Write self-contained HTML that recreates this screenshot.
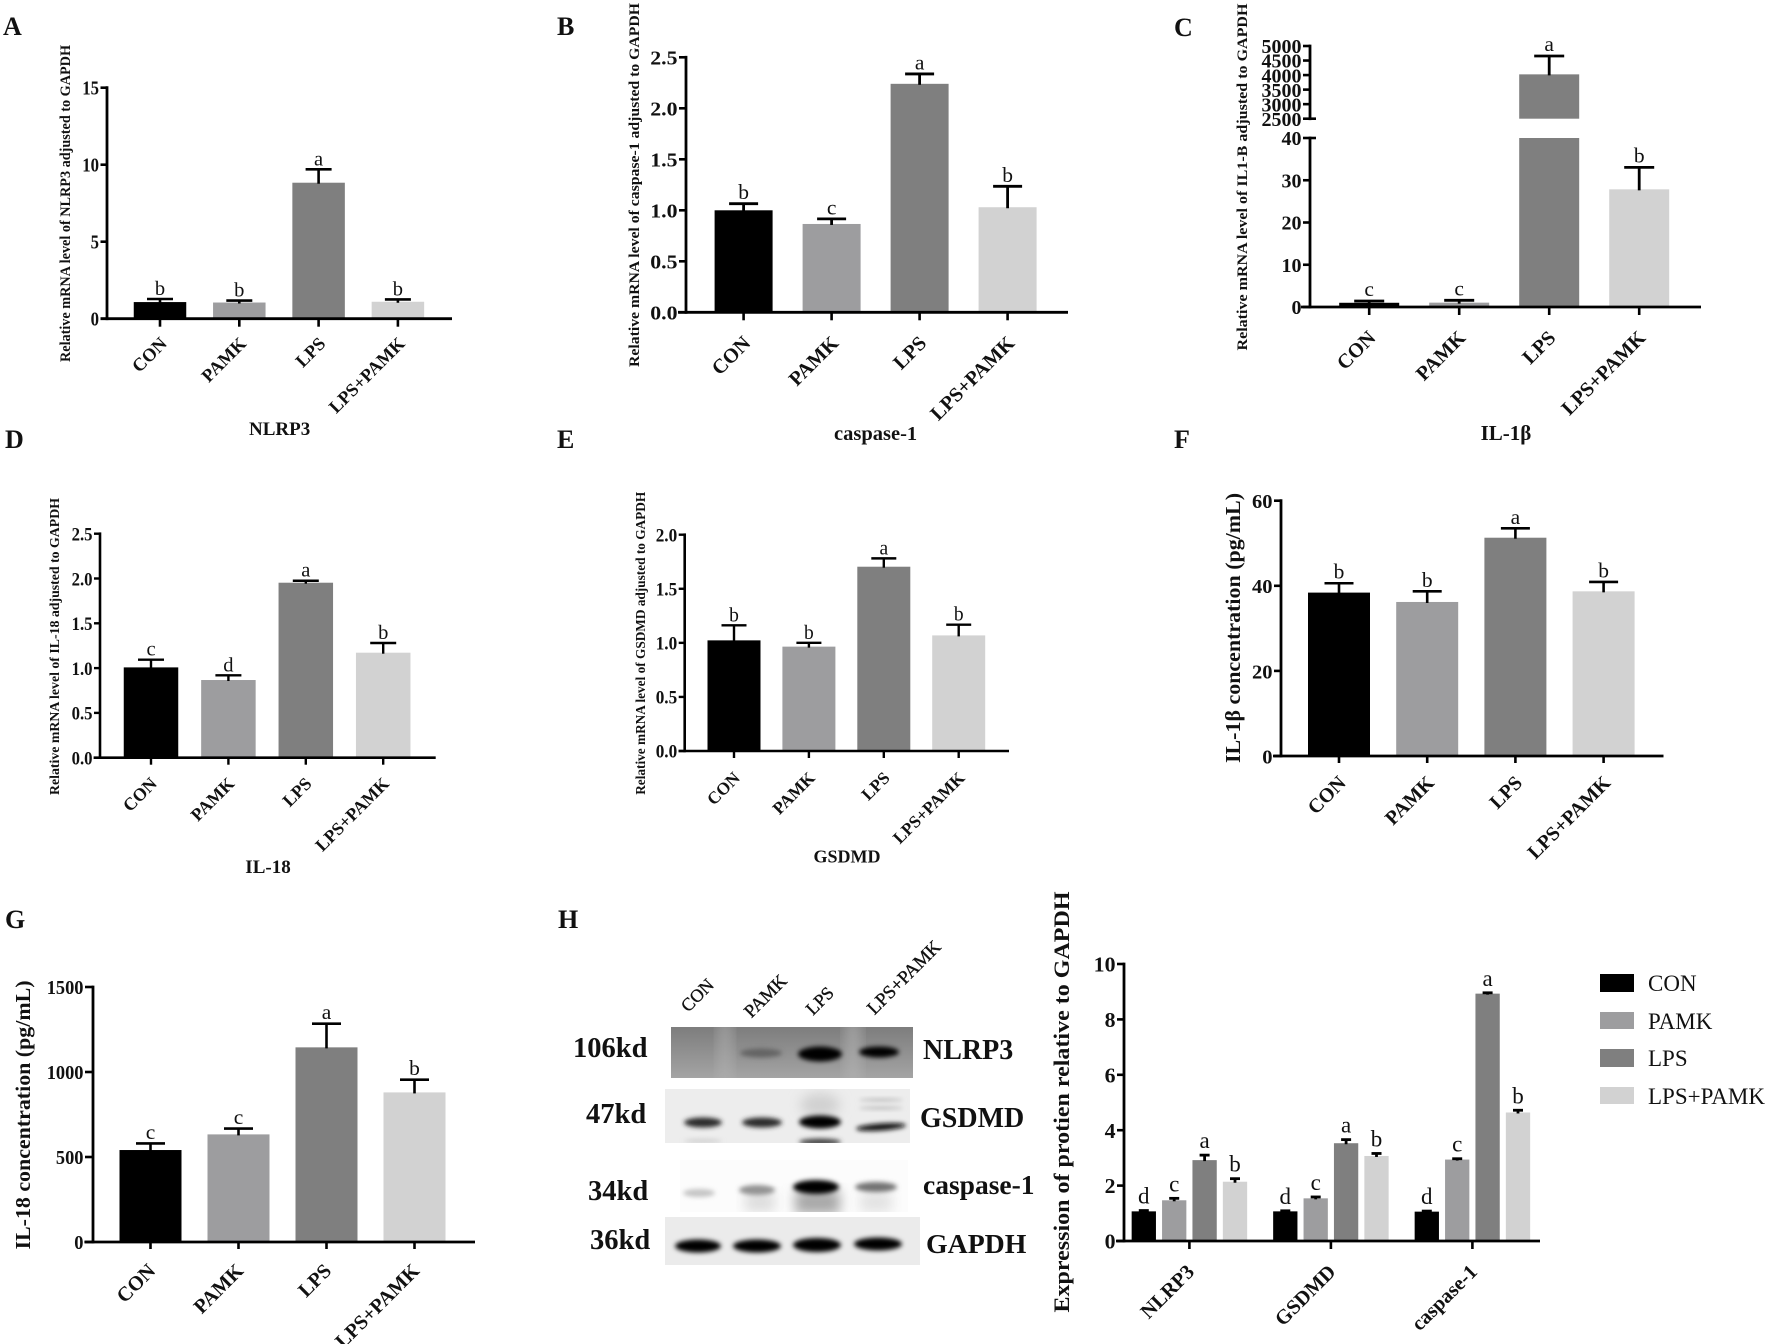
<!DOCTYPE html>
<html lang="en">
<head>
<meta charset="utf-8">
<title>PAMK and LPS pyroptosis marker bar charts</title>
<style>
html,body{margin:0;padding:0;background:#fff}
svg{display:block}
text{font-family:"Liberation Serif","DejaVu Serif",serif;fill:#111}
.b{font-weight:bold}
.panel{font-size:26px;font-weight:bold}
.lane{stroke:#111;stroke-width:.35px}
</style>
</head>
<body>
<svg id="figure" xmlns="http://www.w3.org/2000/svg" width="1772" height="1344" viewBox="0 0 1772 1344">
<defs>
<filter id="blur2" x="-30%" y="-100%" width="160%" height="300%"><feGaussianBlur stdDeviation="2.4"/></filter>
<filter id="blur5" x="-30%" y="-30%" width="160%" height="160%"><feGaussianBlur stdDeviation="6"/></filter>
<filter id="edge" x="-5%" y="-15%" width="110%" height="130%"><feGaussianBlur stdDeviation="1.2"/></filter>
<linearGradient id="blotA" x1="0" y1="0" x2="0" y2="1"><stop offset="0" stop-color="#7d7d7d"/><stop offset="1" stop-color="#a4a4a4"/></linearGradient>
<clipPath id="clipA"><rect x="671" y="1027" width="242" height="51"/></clipPath>
<clipPath id="clipB"><rect x="665" y="1089" width="245" height="54"/></clipPath>
<clipPath id="clipC"><rect x="680" y="1160" width="228" height="52"/></clipPath>
<clipPath id="clipD"><rect x="665" y="1217" width="255" height="48"/></clipPath>
</defs>
<rect x="0" y="0" width="1772" height="1344" fill="#fff"/>

<text class="panel" x="3" y="35">A</text>
<text class="panel" x="557" y="35">B</text>
<text class="panel" x="1174" y="36">C</text>
<text class="panel" x="5" y="448">D</text>
<text class="panel" x="557" y="448">E</text>
<text class="panel" x="1174" y="448">F</text>
<text class="panel" x="5" y="928">G</text>
<text class="panel" x="558" y="928">H</text>

<g id="chart-a">
<text class="b" font-size="14.5" text-anchor="middle" textLength="317" lengthAdjust="spacingAndGlyphs" transform="translate(70 203.5) rotate(-90)">Relative mRNA level of NLRP3 adjusted to GAPDH</text>
<text class="b" font-size="19" text-anchor="middle" x="279.6" y="435">NLRP3</text>
</g>
<g id="chart-b">
<text class="b" font-size="15" text-anchor="middle" textLength="364" lengthAdjust="spacingAndGlyphs" transform="translate(639 185) rotate(-90)">Relative mRNA level of caspase-1 adjusted to GAPDH</text>
<text class="b" font-size="20.5" text-anchor="middle" x="875.6" y="440">caspase-1</text>
</g>
<g id="chart-c">
<text class="b" font-size="15" text-anchor="middle" textLength="347" lengthAdjust="spacingAndGlyphs" transform="translate(1247 177) rotate(-90)">Relative mRNA level of IL1-B adjusted to GAPDH</text>
<text class="b" font-size="21" text-anchor="middle" x="1506" y="440">IL-1β</text>
</g>
<g id="chart-d">
<text class="b" font-size="14" text-anchor="middle" textLength="297" lengthAdjust="spacingAndGlyphs" transform="translate(59 646.5) rotate(-90)">Relative mRNA level of IL-18 adjusted to GAPDH</text>
<text class="b" font-size="19" text-anchor="middle" x="268" y="873">IL-18</text>
</g>
<g id="chart-e">
<text class="b" font-size="14" text-anchor="middle" textLength="303" lengthAdjust="spacingAndGlyphs" transform="translate(645 643.3) rotate(-90)">Relative mRNA level of GSDMD adjusted to GAPDH</text>
<text class="b" font-size="18" text-anchor="middle" x="847" y="862.7">GSDMD</text>
</g>
<g id="chart-f">
<text class="b" font-size="21.5" text-anchor="middle" textLength="270" lengthAdjust="spacingAndGlyphs" transform="translate(1240 628) rotate(-90)">IL-1β concentration (pg/mL)</text>
</g>
<g id="chart-g">
<text class="b" font-size="21.5" text-anchor="middle" textLength="269" lengthAdjust="spacingAndGlyphs" transform="translate(30 1115) rotate(-90)">IL-18 concentration (pg/mL)</text>
</g>

<g>
<g clip-path="url(#clipA)">
<rect x="671" y="1027" width="242" height="51" fill="url(#blotA)"/>
<rect x="718" y="1020" width="14" height="65" fill="#b4b4b4" opacity=".55" filter="url(#blur5)"/>
<rect x="845" y="1020" width="16" height="65" fill="#b4b4b4" opacity=".6" filter="url(#blur5)"/>
<ellipse cx="761" cy="1053" rx="21" ry="4.5" fill="#636363" filter="url(#blur2)"/>
<ellipse cx="820" cy="1054" rx="22" ry="7.5" fill="#000" filter="url(#blur2)"/>
<ellipse cx="879" cy="1052" rx="20" ry="5.5" fill="#000" filter="url(#blur2)"/>
</g>
<g clip-path="url(#clipB)">
<rect x="665" y="1089" width="245" height="54" fill="#ededed"/>
<ellipse cx="820" cy="1105" rx="20" ry="12" fill="#d0d0d0" filter="url(#blur5)"/>
<ellipse cx="881" cy="1100" rx="22" ry="1.5" fill="#b8b8b8" filter="url(#blur2)"/>
<ellipse cx="881" cy="1108" rx="22" ry="1.5" fill="#b8b8b8" filter="url(#blur2)"/>
<ellipse cx="703" cy="1122.5" rx="19" ry="5" fill="#2a2a2a" filter="url(#blur2)"/>
<ellipse cx="762" cy="1122.5" rx="20" ry="5" fill="#2a2a2a" filter="url(#blur2)"/>
<ellipse cx="820" cy="1122" rx="21" ry="6.5" fill="#050505" filter="url(#blur2)"/>
<ellipse cx="820" cy="1142" rx="21" ry="3.5" fill="#444" filter="url(#blur2)"/>
<ellipse cx="703" cy="1141" rx="19" ry="2" fill="#cfcfcf" filter="url(#blur2)"/>
<ellipse cx="881" cy="1127" rx="25" ry="3.5" fill="#111" transform="rotate(-4 881 1127)" filter="url(#blur2)"/>
</g>
<g clip-path="url(#clipC)">
<rect x="680" y="1160" width="228" height="52" fill="#fcfcfc"/>
<rect x="795" y="1190" width="45" height="24" fill="#a8a8a8" filter="url(#blur5)"/>
<rect x="745" y="1192" width="30" height="20" fill="#dddddd" filter="url(#blur5)"/>
<rect x="860" y="1192" width="32" height="20" fill="#e2e2e2" filter="url(#blur5)"/>
<ellipse cx="699" cy="1193" rx="16" ry="4" fill="#c4c4c4" filter="url(#blur2)"/>
<ellipse cx="757" cy="1190" rx="18" ry="5" fill="#939393" filter="url(#blur2)"/>
<ellipse cx="816" cy="1187" rx="23" ry="7" fill="#000" filter="url(#blur2)"/>
<ellipse cx="876" cy="1187" rx="21" ry="5" fill="#727272" filter="url(#blur2)"/>
</g>
<g clip-path="url(#clipD)">
<rect x="665" y="1217" width="255" height="48" fill="#ebebeb"/>
<ellipse cx="698" cy="1246" rx="23" ry="6.5" fill="#000" filter="url(#blur2)"/>
<ellipse cx="757" cy="1246" rx="24" ry="6.5" fill="#000" filter="url(#blur2)"/>
<ellipse cx="817" cy="1245" rx="24" ry="7" fill="#000" filter="url(#blur2)"/>
<ellipse cx="878" cy="1244" rx="24" ry="6.5" fill="#000" filter="url(#blur2)"/>
</g>
<text class="lane" font-size="18" text-anchor="end" transform="translate(715 986) rotate(-45)">CON</text>
<text class="lane" font-size="18.5" text-anchor="end" transform="translate(788 982) rotate(-45)">PAMK</text>
<text class="lane" font-size="18" text-anchor="end" transform="translate(835 994) rotate(-45)">LPS</text>
<text class="lane" font-size="18.8" text-anchor="end" transform="translate(942 948) rotate(-45)">LPS+PAMK</text>
<text class="b" font-size="28.5" x="573" y="1057">106kd</text>
<text class="b" font-size="28.5" x="586" y="1123">47kd</text>
<text class="b" font-size="28.5" x="588" y="1200">34kd</text>
<text class="b" font-size="28.5" x="590" y="1249">36kd</text>
<text class="b" font-size="28" x="923" y="1059">NLRP3</text>
<text class="b" font-size="28" x="920" y="1127">GSDMD</text>
<text class="b" font-size="27.5" x="923" y="1194">caspase-1</text>
<text class="b" font-size="27.8" x="926" y="1253">GAPDH</text>
</g>

<g id="chart-h">
<text class="b" font-size="22" text-anchor="middle" textLength="421" lengthAdjust="spacingAndGlyphs" transform="translate(1069 1102) rotate(-90)">Expression of protien relative to GAPDH</text>
</g>

<g>
<g>
<rect x="1600" y="974" width="34" height="18" fill="#000"/>
<text font-size="23" x="1648" y="991">CON</text>
</g>
<g>
<rect x="1600" y="1012" width="34" height="17" fill="#9d9d9f"/>
<text font-size="23" x="1648" y="1029">PAMK</text>
</g>
<g>
<rect x="1600" y="1049" width="34" height="18" fill="#7f7f7f"/>
<text font-size="23" x="1648" y="1066">LPS</text>
</g>
<g>
<rect x="1600" y="1087" width="34" height="17" fill="#d2d2d2"/>
<text font-size="23" x="1648" y="1104">LPS+PAMK</text>
</g>
</g>
</svg>

<script>
// ---- shared categories ----
const groups = ['CON', 'PAMK', 'LPS', 'LPS+PAMK'];
const barColors = ['#000000', '#9d9d9f', '#7f7f7f', '#d2d2d2'];

// ---- panel A: NLRP3 ----
const ticksA = ['0', '5', '10', '15'];
const meansA = [1.08, 1.05, 8.83, 1.1];
const errsA = [0.2, 0.13, 0.87, 0.15];
const sigA = ['b', 'b', 'a', 'b'];

// ---- panel B: caspase-1 ----
const ticksB = ['0.0', '0.5', '1.0', '1.5', '2.0', '2.5'];
const meansB = [1.0, 0.866, 2.24, 1.03];
const errsB = [0.065, 0.05, 0.097, 0.205];
const sigB = ['b', 'c', 'a', 'b'];

// ---- panel C: IL-1beta (broken axis) ----
const ticksCLow = ['0', '10', '20', '30', '40'];
const ticksCHigh = ['2500', '3000', '3500', '4000', '4500', '5000'];
const meansC = [1.0, 1.03, 4025, 27.85];
const errsC = [0.42, 0.55, 631, 5.2];
const sigC = ['c', 'c', 'a', 'b'];

// ---- panel D: IL-18 ----
const ticksD = ['0.0', '0.5', '1.0', '1.5', '2.0', '2.5'];
const meansD = [1.008, 0.867, 1.953, 1.172];
const errsD = [0.086, 0.052, 0.022, 0.108];
const sigD = ['c', 'd', 'a', 'b'];

// ---- panel E: GSDMD ----
const ticksE = ['0.0', '0.5', '1.0', '1.5', '2.0'];
const meansE = [1.023, 0.965, 1.704, 1.069];
const errsE = [0.139, 0.035, 0.077, 0.099];
const sigE = ['b', 'b', 'a', 'b'];

// ---- panel F: IL-1beta concentration ----
const ticksF = ['0', '20', '40', '60'];
const meansF = [38.4, 36.2, 51.3, 38.7];
const errsF = [2.2, 2.5, 2.2, 2.2];
const sigF = ['b', 'b', 'a', 'b'];

// ---- panel G: IL-18 concentration ----
const ticksG = ['0', '500', '1000', '1500'];
const meansG = [541, 633, 1145, 880];
const errsG = [39, 34, 139, 75];
const sigG = ['c', 'c', 'a', 'b'];

// ---- panel H: protein expression ----
const proteins = ['NLRP3', 'GSDMD', 'caspase-1'];
const ticksH = ['0', '2', '4', '6', '8', '10'];
const meansHCon = [1.07, 1.07, 1.06];
const meansHPamk = [1.47, 1.54, 2.94];
const meansHLps = [2.92, 3.53, 8.93];
const meansHBoth = [2.14, 3.07, 4.64];
const errsHCon = [0.03, 0.02, 0.02];
const errsHPamk = [0.07, 0.05, 0.03];
const errsHLps = [0.18, 0.13, 0.03];
const errsHBoth = [0.11, 0.09, 0.08];
const sigHCon = ['d', 'd', 'd'];
const sigHPamk = ['c', 'c', 'c'];
const sigHLps = ['a', 'a', 'a'];
const sigHBoth = ['b', 'b', 'b'];

const SVGNS = 'http://www.w3.org/2000/svg';
function make(tag, attrs, parent, content) {
  const el = document.createElementNS(SVGNS, tag);
  for (const k in attrs) el.setAttribute(k, attrs[k]);
  if (content !== undefined) el.textContent = content;
  parent.appendChild(el);
  return el;
}

// Axis function: maps a data value through one or more stacked axis segments.
function makeYScale(segs) {
  segs.forEach(function (s) {
    s.lo = parseFloat(s.ticks[0]);
    s.hi = parseFloat(s.ticks[s.ticks.length - 1]);
  });
  return function (v) {
    for (let i = 0; i < segs.length; i++) {
      const s = segs[i];
      if (v <= s.hi || i === segs.length - 1) {
        const c = Math.max(v, s.lo);
        return s.y0 - (c - s.lo) / (s.hi - s.lo) * (s.y0 - s.y1);
      }
    }
  };
}

function drawBar(g, cx, o, yS, segs, mean, err, sig, color) {
  segs.forEach(function (s) {
    if (mean > s.lo) {
      const top = yS(Math.min(mean, s.hi));
      const bar = make('rect', { x: cx - o.barW / 2, y: top, width: o.barW, height: s.y0 - top, fill: color }, g);
      
      
    }
  });
  const yTop = yS(mean + err);
  const stem = make('line', { x1: cx, x2: cx, y1: yS(mean) + 1, y2: yTop, stroke: '#000', 'stroke-width': o.errW }, g);
  
  
  const cap = make('line', { x1: cx - o.capW / 2, x2: cx + o.capW / 2, y1: yTop, y2: yTop, stroke: '#000', 'stroke-width': o.errW }, g);
  
  
  const letter = make('text', { x: cx, y: yTop - o.sigGap, 'text-anchor': 'middle', 'font-size': o.sigSize }, g, sig);
  
  
}

function drawAxes(g, o, segs, yS, xTicks, xLabels) {
  const base = segs[0].y0;
  const xAxis = make('line', { x1: o.xStart, x2: o.xEnd, y1: base, y2: base, stroke: '#000', 'stroke-width': o.axisW }, g);
  
  
  segs.forEach(function (s, si) {
    const yAxis = make('line', { x1: o.axisX, x2: o.axisX, y1: s.y0 + o.axisW / 2, y2: s.y1 - o.axisW / 2, stroke: '#000', 'stroke-width': o.axisW }, g);
    
    
    s.ticks.forEach(function (t, ti) {
      const y = yS(parseFloat(t));
      const isBreak = segs.length > 1 && ((si === 0 && ti === s.ticks.length - 1) || (si === 1 && ti === 0));
      const mark = make('line', { x1: o.axisX - o.tickLen, x2: o.axisX + (isBreak ? 6 : 0), y1: y, y2: y, stroke: '#000', 'stroke-width': o.tickW }, g);
      
      
      const label = make('text', { 'text-anchor': 'end', 'font-size': o.tickSize, 'font-weight': 'bold', transform: 'translate(' + (o.axisX - o.tickLen - 1.5) + ' ' + (y + o.tickSize * 0.36) + ') scale(' + o.tickSX + ' 1)' }, g, t);
      
      
    });
  });
  xTicks.forEach(function (x, i) {
    const mark = make('line', { x1: x, x2: x, y1: base, y2: base + o.xTickLen, stroke: '#000', 'stroke-width': o.tickW }, g);
    
    
    const label = make('text', { 'text-anchor': 'end', 'font-size': o.catSize, 'font-weight': 'bold', transform: 'translate(' + (x + o.catDx) + ' ' + (base + o.catDy) + ') rotate(-45)' }, g, xLabels[i]);
    
    
  });
}

function drawSingle(id, o, segs, means, errs, sigs) {
  const g = document.getElementById(id);
  const yS = makeYScale(segs);
  const xOf = function (i) { return o.firstX + i * o.step; };
  const xTicks = [];
  groups.forEach(function (name, i) {
    drawBar(g, xOf(i), o, yS, segs, means[i], errs[i], sigs[i], barColors[i]);
    xTicks.push(xOf(i));
  });
  drawAxes(g, o, segs, yS, xTicks, groups);
}

function drawGrouped(id, o, segs, meanSets, errSets, sigSets) {
  const g = document.getElementById(id);
  const yS = makeYScale(segs);
  const groupX = function (p) { return o.firstX + p * o.step; };
  const barX = function (p, s) { return groupX(p) + (s - (meanSets.length - 1) / 2) * o.inner; };
  const xTicks = [];
  proteins.forEach(function (name, p) {
    meanSets.forEach(function (series, s) {
      drawBar(g, barX(p, s), o, yS, segs, series[p], errSets[s][p], sigSets[s][p], barColors[s]);
    });
    xTicks.push(groupX(p));
  });
  drawAxes(g, o, segs, yS, xTicks, proteins);
}

drawSingle('chart-a', { axisX: 107, xStart: 100.5, xEnd: 452, firstX: 160, step: 79.3, barW: 52.5, capW: 26, errW: 2.6, axisW: 2.8, tickW: 2.6, tickLen: 6.5, xTickLen: 8, tickSize: 19.5, tickSX: 0.86, sigSize: 20.5, sigGap: 4, catSize: 18.3, catDx: 8, catDy: 26 },
  [{ ticks: ticksA, y0: 318.7, y1: 87.7 }], meansA, errsA, sigA);
drawSingle('chart-b', { axisX: 686, xStart: 678, xEnd: 1068, firstX: 743.6, step: 88, barW: 58, capW: 29, errW: 2.8, axisW: 2.8, tickW: 2.6, tickLen: 7, xTickLen: 8, tickSize: 19.5, tickSX: 1.12, sigSize: 21.5, sigGap: 4.5, catSize: 20.3, catDx: 8, catDy: 32 },
  [{ ticks: ticksB, y0: 312.3, y1: 57.3 }], meansB, errsB, sigB);
drawSingle('chart-c', { axisX: 1310, xStart: 1301, xEnd: 1701, firstX: 1369.2, step: 90, barW: 60, capW: 30, errW: 2.8, axisW: 2.8, tickW: 2.6, tickLen: 7, xTickLen: 8, tickSize: 20, tickSX: 1, sigSize: 21.5, sigGap: 5, catSize: 20.3, catDx: 7.5, catDy: 32 },
  [{ ticks: ticksCLow, y0: 307, y1: 138 }, { ticks: ticksCHigh, y0: 118.7, y1: 46 }], meansC, errsC, sigC);
drawSingle('chart-d', { axisX: 100, xStart: 93.6, xEnd: 435.7, firstX: 151, step: 77.4, barW: 54.5, capW: 26, errW: 2.4, axisW: 2.6, tickW: 2.4, tickLen: 6, xTickLen: 7, tickSize: 19, tickSX: 0.88, sigSize: 20.5, sigGap: 4, catSize: 17.8, catDx: 7, catDy: 27 },
  [{ ticks: ticksD, y0: 757.7, y1: 533.7 }], meansD, errsD, sigD);
drawSingle('chart-e', { axisX: 684.7, xStart: 678.5, xEnd: 1009, firstX: 734, step: 74.9, barW: 53, capW: 25, errW: 2.4, axisW: 2.6, tickW: 2.4, tickLen: 6, xTickLen: 7, tickSize: 18.5, tickSX: 0.93, sigSize: 19.5, sigGap: 4, catSize: 17.3, catDx: 7, catDy: 28 },
  [{ ticks: ticksE, y0: 751, y1: 534.7 }], meansE, errsE, sigE);
drawSingle('chart-f', { axisX: 1281, xStart: 1273, xEnd: 1663.5, firstX: 1339, step: 88.2, barW: 62, capW: 29, errW: 2.6, axisW: 2.8, tickW: 2.6, tickLen: 7, xTickLen: 7, tickSize: 20.5, tickSX: 1, sigSize: 21.5, sigGap: 4.5, catSize: 20, catDx: 8, catDy: 28 },
  [{ ticks: ticksF, y0: 756, y1: 500.7 }], meansF, errsF, sigF);
drawSingle('chart-g', { axisX: 93, xStart: 84.4, xEnd: 475, firstX: 150.5, step: 88, barW: 62, capW: 29, errW: 2.6, axisW: 2.8, tickW: 2.6, tickLen: 8, xTickLen: 7, tickSize: 20, tickSX: 0.92, sigSize: 21.5, sigGap: 4.5, catSize: 20.3, catDx: 6, catDy: 30 },
  [{ ticks: ticksG, y0: 1242, y1: 987 }], meansG, errsG, sigG);
drawGrouped('chart-h', { axisX: 1124, xStart: 1116, xEnd: 1540, firstX: 1189.4, step: 141.5, inner: 30.4, barW: 24.3, capW: 10, errW: 2.8, axisW: 2.8, tickW: 2.6, tickLen: 7, xTickLen: 8, tickSize: 21, tickSX: 1.04, sigSize: 23, sigGap: 7, catSize: 20.5, catDx: 6, catDy: 32 },
  [{ ticks: ticksH, y0: 1241, y1: 964 }],
  [meansHCon, meansHPamk, meansHLps, meansHBoth],
  [errsHCon, errsHPamk, errsHLps, errsHBoth],
  [sigHCon, sigHPamk, sigHLps, sigHBoth]);
</script>
</body>
</html>
